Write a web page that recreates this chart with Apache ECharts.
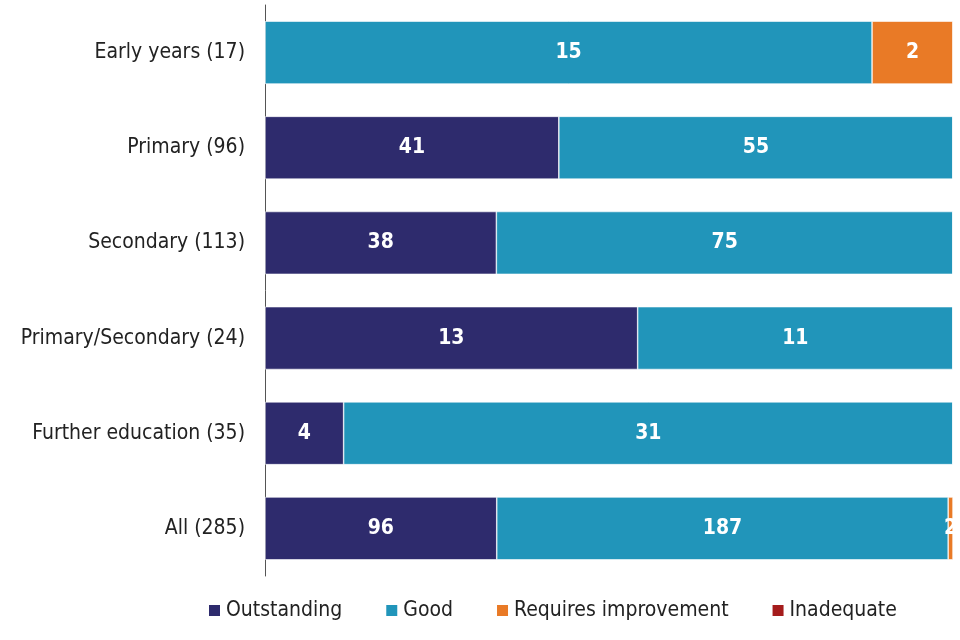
<!DOCTYPE html>
<html><head><meta charset="utf-8">
<script src="https://cdn.jsdelivr.net/npm/echarts@6/dist/echarts.min.js"></script>
<style>html,body{margin:0;padding:0;background:#fff}#c{width:960px;height:640px}</style>
</head><body><div id="c"></div>
<script>
const categories = ['Early years (17)','Primary (96)','Secondary (113)','Primary/Secondary (24)','Further education (35)','All (285)'];
const outstanding = [0,41,38,13,4,96];
const good = [15,55,75,11,31,187];
const requiresImprovement = [2,0,0,0,0,2];
const inadequate = [0,0,0,0,0,0];
const seriesNames = ['Outstanding','Good','Requires improvement','Inadequate'];
const colors = ['#2E2B6D','#2195BA','#E97A26','#A51C1C'];
const raw = [outstanding, good, requiresImprovement, inadequate];
const totals = categories.map((_, i) => raw.reduce((s, a) => s + a[i], 0));
const chart = echarts.init(document.getElementById('c'));
const font = 'DejaVu Sans Condensed';
chart.setOption({
  animation:false,
  textStyle:{fontFamily:font},
  grid:{left:265,right:7,top:5,bottom:64,containLabel:false},
  legend:{top:595,left:202,itemWidth:13,itemHeight:13,itemGap:42,icon:'rect',
    textStyle:{fontFamily:font,fontSize:21,color:'#222'},data:seriesNames},
  xAxis:{type:'value',min:0,max:100,show:false},
  yAxis:{type:'category',inverse:true,data:categories,
    axisLine:{show:true,lineStyle:{color:'#555',width:1}},axisTick:{show:false},
    axisLabel:{fontFamily:font,fontSize:21,color:'#222',margin:20}},
  series: raw.map((arr, k) => ({
    name:seriesNames[k], type:'bar', stack:'t', barCategoryGap:'34%',
    itemStyle:{color:colors[k],borderColor:'#fff',borderWidth:0.6},
    label:{show:true,position:'inside',color:'#fff',fontWeight:'bold',fontSize:21,fontFamily:font,
      formatter:p => raw[k][p.dataIndex] > 0 ? String(raw[k][p.dataIndex]) : ''},
    data: arr.map((v, i) => v / totals[i] * 100)
  }))
});
</script></body></html>
